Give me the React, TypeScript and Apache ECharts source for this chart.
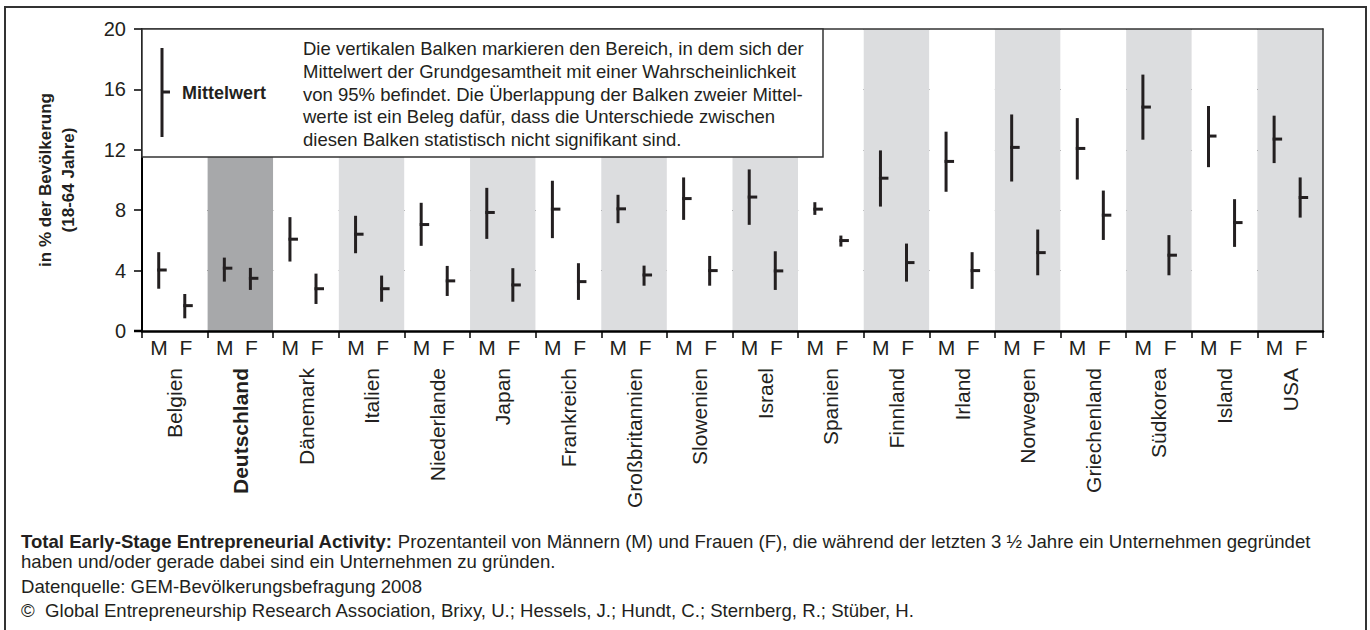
import React, { useEffect, useRef } from "react";
import * as echarts from "echarts";

const countries = [
  "Belgien", "Deutschland", "Dänemark", "Italien", "Niederlande", "Japan",
  "Frankreich", "Großbritannien", "Slowenien", "Israel", "Spanien", "Finnland",
  "Irland", "Norwegen", "Griechenland", "Südkorea", "Island", "USA",
];
const highlighted = "Deutschland";

// Männer: untere Grenze, Mittelwert, obere Grenze (95%-Konfidenzintervall)
const mLow = [2.8, 3.27, 4.6, 5.15, 5.64, 6.1, 6.15, 7.14, 7.36, 7.03, 7.69, 8.24, 9.22, 9.9, 10.03, 12.67, 10.85, 11.12];
const mMean = [4.04, 4.16, 6.08, 6.41, 7.05, 7.85, 8.07, 8.09, 8.77, 8.87, 8.07, 10.12, 11.23, 12.16, 12.09, 14.83, 12.91, 12.71];
const mHigh = [5.22, 4.86, 7.54, 7.63, 8.49, 9.48, 9.95, 9.02, 10.17, 10.7, 8.53, 11.96, 13.2, 14.34, 14.1, 16.98, 14.9, 14.26];

// Frauen
const fLow = [0.84, 2.72, 1.79, 1.94, 2.32, 1.94, 2.06, 3.0, 3.0, 2.72, 5.59, 3.27, 2.79, 3.69, 6.03, 3.69, 5.57, 7.51];
const fMean = [1.68, 3.49, 2.8, 2.8, 3.32, 3.05, 3.27, 3.71, 4.0, 3.98, 5.99, 4.53, 4.0, 5.19, 7.67, 5.02, 7.18, 8.84];
const fHigh = [2.45, 4.18, 3.8, 3.67, 4.31, 4.16, 4.49, 4.33, 4.97, 5.28, 6.32, 5.79, 5.22, 6.72, 9.3, 6.35, 8.73, 10.17];

const yTicks = { min: 0, max: 20, interval: 4 };
const sexLabel = "M  F";

const yAxisTitle = "in % der Bevölkerung\n(18-64 Jahre)";
const legendMean = "Mittelwert";
const legendText =
  "Die vertikalen Balken markieren den Bereich, in dem sich der\n" +
  "Mittelwert der Grundgesamtheit mit einer Wahrscheinlichkeit\n" +
  "von 95% befindet. Die Überlappung der Balken zweier Mittel-\n" +
  "werte ist ein Beleg dafür, dass die Unterschiede zwischen\n" +
  "diesen Balken statistisch nicht signifikant sind.";
const footBold = "Total Early-Stage Entrepreneurial Activity:";
const footRest1 = " Prozentanteil von Männern (M) und Frauen (F), die während der letzten 3 ½ Jahre ein Unternehmen gegründet";
const footLine2 = "haben und/oder gerade dabei sind ein Unternehmen zu gründen.";
const footSource = "Datenquelle: GEM-Bevölkerungsbefragung 2008";
const footCopy = "©  Global Entrepreneurship Research Association, Brixy, U.; Hessels, J.; Hundt, C.; Sternberg, R.; Stüber, H.";

const FONT = "'Liberation Sans', Arial, Helvetica, sans-serif";
const INK = "#231f20";

export default function App() {
  const ref = useRef<HTMLDivElement>(null);

  useEffect(() => {
    if (!ref.current) return;
    const chart = echarts.init(ref.current, undefined, { renderer: "svg", width: 1370, height: 630 });

    const shadeColors = countries.map((c, i) =>
      c === highlighted ? "#a7a8aa" : i % 2 === 1 ? "#dcdddf" : "#ffffff"
    );

    const makeData = (lo: number[], mean: number[], hi: number[]) =>
      countries.map((_, i) => [i, lo[i], mean[i], hi[i]]);

    const renderBar = (offset: number) => (params: any, api: any) => {
      const i = api.value(0);
      const lo = api.coord([i, api.value(1)]);
      const mid = api.coord([i, api.value(2)]);
      const hi = api.coord([i, api.value(3)]);
      const bw = api.size([1, 0])[0];
      const x = lo[0] + offset * bw;
      return {
        type: "group",
        children: [
          { type: "line", shape: { x1: x, y1: hi[1], x2: x, y2: lo[1] }, style: { stroke: INK, lineWidth: 3 } },
          { type: "line", shape: { x1: x - 1.5, y1: mid[1], x2: x + 8, y2: mid[1] }, style: { stroke: INK, lineWidth: 3 } },
        ],
      };
    };

    const catData = countries.map((c) =>
      c === highlighted ? { value: c, textStyle: { fontWeight: "bold" } } : c
    );

    const txt = (size: number, weight = "normal") => ({
      fontSize: size,
      fontWeight: weight,
      fontFamily: FONT,
      fill: INK,
    });
    const FOOT = 18.6;

    chart.setOption({
      animation: false,
      textStyle: { fontFamily: FONT },
      grid: { left: 142, right: 47, top: 29, bottom: 299, containLabel: false },
      xAxis: [
        {
          type: "category",
          data: countries,
          position: "bottom",
          axisLine: { onZero: false, lineStyle: { color: "#000", width: 2.5 } },
          axisTick: { show: true, length: 7, lineStyle: { color: "#000", width: 1.5 } },
          axisLabel: {
            interval: 0,
            formatter: () => sexLabel,
            fontSize: 21,
            color: INK,
            margin: 6,
            padding: [0, 7, 0, 0],
          },
          splitArea: { show: true, interval: 0, areaStyle: { color: shadeColors } },
        },
        {
          type: "category",
          data: catData,
          position: "bottom",
          axisLine: { show: false, onZero: false },
          axisTick: { show: false },
          axisLabel: { interval: 0, rotate: 90, fontSize: 21, color: INK, margin: 37 },
        },
        {
          type: "category",
          data: countries,
          position: "top",
          axisLine: { show: true, onZero: false, lineStyle: { color: "#333", width: 1.5 } },
          axisTick: { show: false },
          axisLabel: { show: false },
        },
      ],
      yAxis: [
        {
          type: "value",
          ...yTicks,
          position: "left",
          name: yAxisTitle,
          nameLocation: "middle",
          nameGap: 62,
          nameTextStyle: { fontSize: 17, fontWeight: "bold", color: INK, lineHeight: 23, align: "center" },
          axisLine: { show: true, onZero: false, lineStyle: { color: "#000", width: 2 } },
          axisTick: { show: true, length: 8, lineStyle: { color: "#000", width: 1.5 } },
          axisLabel: { fontSize: 20, color: INK, margin: 16 },
          splitLine: { show: true, lineStyle: { color: "#000", width: 1 } },
        },
        {
          type: "value",
          ...yTicks,
          position: "right",
          axisLine: { show: true, onZero: false, lineStyle: { color: "#333", width: 1.5 } },
          axisTick: { show: false },
          axisLabel: { show: false },
          splitLine: { show: false },
        },
      ],
      series: [
        {
          name: "M",
          type: "custom",
          xAxisIndex: 0,
          yAxisIndex: 0,
          encode: { x: 0, y: [1, 2, 3] },
          data: makeData(mLow, mMean, mHigh),
          renderItem: renderBar(-0.245),
          z: 5,
        },
        {
          name: "F",
          type: "custom",
          xAxisIndex: 0,
          yAxisIndex: 0,
          encode: { x: 0, y: [1, 2, 3] },
          data: makeData(fLow, fMean, fHigh),
          renderItem: renderBar(0.152),
          z: 5,
        },
      ],
      graphic: [
        {
          type: "rect",
          z: 1,
          shape: { x: 5, y: 7, width: 1361, height: 640 },
          style: { fill: "none", stroke: "#333", lineWidth: 2 },
        },
        {
          type: "line",
          z: 3,
          shape: { x1: 134, y1: 331, x2: 142, y2: 331 },
          style: { stroke: "#000", lineWidth: 2.5 },
        },
        {
          type: "rect",
          z: 50,
          shape: { x: 142, y: 29, width: 681, height: 128 },
          style: { fill: "#fff", stroke: "#333", lineWidth: 1.5 },
        },
        { type: "line", z: 51, shape: { x1: 162, y1: 48, x2: 162, y2: 137 }, style: { stroke: INK, lineWidth: 3 } },
        { type: "line", z: 51, shape: { x1: 161, y1: 92, x2: 170, y2: 92 }, style: { stroke: INK, lineWidth: 3 } },
        {
          type: "text",
          z: 51,
          x: 182,
          y: 93,
          style: { text: legendMean, ...txt(18, "bold"), verticalAlign: "middle" },
        },
        {
          type: "text",
          z: 51,
          x: 303,
          y: 37,
          style: { text: legendText, ...txt(18.5), lineHeight: 22.8, verticalAlign: "top" },
        },
        {
          type: "text",
          x: 21,
          y: 541,
          z: 50,
          style: {
            text: `{b|${footBold}}{r|${footRest1}}`,
            verticalAlign: "middle",
            rich: {
              b: txt(FOOT, "bold"),
              r: txt(FOOT),
            },
          },
        },
        { type: "text", x: 21, y: 561, z: 50, style: { text: footLine2, ...txt(FOOT), verticalAlign: "middle" } },
        { type: "text", x: 21, y: 586, z: 50, style: { text: footSource, ...txt(FOOT), verticalAlign: "middle" } },
        { type: "text", x: 21, y: 610, z: 50, style: { text: footCopy, ...txt(FOOT), verticalAlign: "middle" } },
      ],
    });

    return () => chart.dispose();
  }, []);

  return (
    <div
      ref={ref}
      style={{ position: "fixed", left: 0, top: 0, width: 1370, height: 630, background: "#fff" }}
    />
  );
}
